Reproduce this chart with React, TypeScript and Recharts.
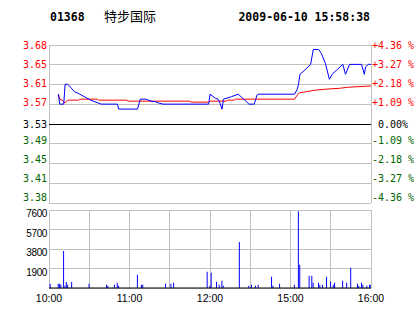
import React from 'react';
import {
  ComposedChart,
  BarChart,
  Line,
  Bar,
  XAxis,
  YAxis,
  CartesianGrid,
  ReferenceLine,
} from 'recharts';

// ---- header ----
const stockCode = '01368';
const stockName = '特步国际';
const timestamp = '2009-06-10 15:58:38';

// ---- price scale ----
const prevClose = 3.53;
const priceStep = 0.03975;
const priceTickLabels = ['3.38', '3.41', '3.45', '3.49', '3.53', '3.57', '3.61', '3.65', '3.68'];
const pctTickLabels = ['-4.36 %', '-3.27 %', '-2.18 %', '-1.09 %', '0.00%', '+1.09 %', '+2.18 %', '+3.27 %', '+4.36 %'];

// ---- volume scale ----
const volumeTicks = [0, 1900, 3800, 5700, 7600];
const volumeTickLabels = ['', '1900', '3800', '5700', '7600'];

// ---- time axis (minutes of trading from 10:00) ----
const timeTicks = [0, 30, 60, 90, 120, 150, 180, 210, 240];
const timeTickLabels = ['10:00', '', '11:00', '', '12:00', '', '15:00', '', '16:00'];

// ---- price series ----
const priceMinutes = [7, 8, 11, 12, 14, 19, 23, 31, 35, 39, 51, 52, 66, 68, 72, 76, 79, 82, 85, 119, 120, 124, 126, 127, 129, 130, 136, 141, 146, 149, 153, 155, 156, 183, 185, 186, 187, 190, 195, 197, 201, 203, 206, 209, 211, 215, 219, 221, 224, 233, 235, 236, 238, 240];
const priceValues = [3.59, 3.57, 3.57, 3.61, 3.61, 3.595, 3.59, 3.578, 3.574, 3.57, 3.57, 3.56, 3.56, 3.58, 3.58, 3.576, 3.575, 3.572, 3.57, 3.57, 3.59, 3.582, 3.58, 3.575, 3.56, 3.58, 3.585, 3.59, 3.578, 3.57, 3.57, 3.588, 3.59, 3.59, 3.6, 3.61, 3.63, 3.637, 3.65, 3.68, 3.68, 3.672, 3.652, 3.62, 3.63, 3.64, 3.65, 3.63, 3.65, 3.65, 3.63, 3.645, 3.65, 3.65];

// ---- average price series ----
const avgMinutes = [7, 8, 10, 11, 12, 14, 22, 23, 36, 37, 58, 59, 105, 106, 119, 120, 132, 133, 138, 139, 183, 185, 187, 192, 198, 206, 217, 223, 240];
const avgValues = [3.59, 3.58, 3.578, 3.574, 3.573, 3.578, 3.578, 3.58, 3.58, 3.578, 3.578, 3.576, 3.576, 3.574, 3.574, 3.576, 3.576, 3.578, 3.578, 3.58, 3.58, 3.588, 3.593, 3.595, 3.598, 3.6, 3.602, 3.604, 3.6065];

// ---- volume series ----
const volumeMinutes = [1, 7, 8, 9, 11, 12, 13, 14, 17, 30, 43, 44, 49, 51, 52, 66, 69, 70, 87, 91, 93, 118, 120, 121, 125, 127, 129, 130, 142, 149, 151, 154, 156, 166, 167, 172, 183, 186, 187, 194, 196, 197, 201, 202, 204, 207, 210, 212, 213, 219, 222, 225, 230, 231, 233, 234, 237, 239, 240];
const volumeValues = [420, 420, 420, 320, 3610, 220, 580, 320, 580, 420, 320, 220, 320, 515, 220, 1290, 320, 320, 420, 420, 515, 1580, 220, 1480, 610, 320, 710, 220, 4480, 220, 320, 220, 320, 1100, 220, 420, 320, 7480, 2260, 1190, 1190, 515, 515, 320, 320, 1100, 610, 320, 515, 710, 515, 1970, 420, 220, 515, 320, 220, 320, 320];

// ---- derived tables ----
const priceTicks = [-4, -3, -2, -1, 0, 1, 2, 3, 4].map((k) => prevClose + k * priceStep);
const priceMin = priceTicks[0];
const priceMax = priceTicks[priceTicks.length - 1];
const priceData = priceMinutes.map((m, i) => ({ m, v: priceValues[i] }));
const avgData = avgMinutes.map((m, i) => ({ m, v: avgValues[i] }));
const volumeData = volumeMinutes.map((m, i) => ({ m, v: volumeValues[i] }));

const RED = '#ff0000';
const GREEN = '#006400';
const GRID = '#c0c0c0';
const MONO = '"DejaVu Sans Mono", monospace';
const SANS = '"Liberation Sans", Arial, sans-serif';
const labelShift = [-5.8, -5, -4, -3, 0, -2.2, -1.5, -0.3, 0];

const tickIndex = (value: number) =>
  priceTicks.findIndex((t) => Math.abs(t - value) < 1e-6);

const colorFor = (i: number) => (i > 4 ? RED : i < 4 ? GREEN : '#000');

const LeftTick = (props: any) => {
  const { x, y, payload } = props;
  const i = tickIndex(payload.value);
  if (i < 0) return null;
  return (
    <text x={x} y={y + labelShift[i] + 3.6} textAnchor="end" fontFamily={MONO} fontSize={10} fill={colorFor(i)}>
      {priceTickLabels[i]}
    </text>
  );
};

const RightTick = (props: any) => {
  const { x, y, payload } = props;
  const i = tickIndex(payload.value);
  if (i < 0) return null;
  return (
    <text x={x + (i === 4 ? 6 : 0)} y={y + labelShift[i] + 3.6} textAnchor="start" fontFamily={MONO} fontSize={10} fill={colorFor(i)}>
      {pctTickLabels[i]}
    </text>
  );
};

const VolTick = (props: any) => {
  const { x, y, payload } = props;
  const i = volumeTicks.indexOf(payload.value);
  if (i <= 0) return null;
  return (
    <text x={x} y={y + 7.2} textAnchor="end" fontFamily={SANS} fontSize={10} letterSpacing={-0.4} fill="#000">
      {volumeTickLabels[i]}
    </text>
  );
};

const TimeTick = (props: any) => {
  const { x, y, payload } = props;
  const i = timeTicks.indexOf(payload.value);
  if (i < 0 || !timeTickLabels[i]) return null;
  return (
    <text x={x} y={y + 14} textAnchor="middle" fontFamily={SANS} fontSize={10.5} fill="#000">
      {timeTickLabels[i]}
    </text>
  );
};

export default function App() {
  return (
    <div style={{ position: 'absolute', left: 0, top: 0, width: 414, height: 314, background: '#fff', overflow: 'hidden' }}>
      <svg width={414} height={30} style={{ position: 'absolute', left: 0, top: 0 }}>
        <text x={50} y={20.7} fontFamily={MONO} fontWeight="bold" fontSize={11.5} fill="#000">
          {stockCode}
        </text>
        <text x={104} y={20.5} fontFamily='"Noto Sans CJK SC", sans-serif' fontSize={13} fill="#000">
          {stockName}
        </text>
        <text x={370} y={20.7} textAnchor="end" fontFamily={MONO} fontWeight="bold" fontSize={11.5} fill="#000">
          {timestamp}
        </text>
      </svg>

      <div style={{ position: 'absolute', left: 0, top: 0 }}>
        <ComposedChart width={414} height={210} margin={{ top: 45, right: 0, bottom: 7, left: 0 }}>
          <CartesianGrid yAxisId="p" stroke={GRID} shapeRendering="crispEdges" />
          <XAxis
            type="number"
            dataKey="m"
            domain={[0, 240]}
            ticks={timeTicks}
            interval={0}
            height={0}
            tick={false}
            tickLine={false}
            axisLine={{ stroke: '#000' }}
            allowDataOverflow
          />
          <YAxis
            yAxisId="p"
            type="number"
            domain={[priceMin, priceMax]}
            ticks={priceTicks}
            interval={0}
            width={49}
            tickSize={0}
            tickMargin={2}
            tickLine={false}
            axisLine={false}
            tick={<LeftTick />}
            allowDataOverflow
          />
          <YAxis
            yAxisId="pct"
            orientation="right"
            type="number"
            domain={[priceMin, priceMax]}
            ticks={priceTicks}
            interval={0}
            width={43}
            tickSize={0}
            tickMargin={1}
            tickLine={false}
            axisLine={false}
            tick={<RightTick />}
            allowDataOverflow
          />
          <ReferenceLine yAxisId="p" y={prevClose} stroke="#000" shapeRendering="crispEdges" />
          <Line yAxisId="p" data={avgData} dataKey="v" stroke={RED} strokeWidth={1} dot={false} isAnimationActive={false} />
          <Line yAxisId="p" data={priceData} dataKey="v" stroke="#0000ff" strokeWidth={1} dot={false} isAnimationActive={false} />
        </ComposedChart>
      </div>

      <div style={{ position: 'absolute', left: 0, top: 203 }}>
        <BarChart width={414} height={111} data={volumeData} margin={{ top: 7, right: 43, bottom: 0, left: 0 }}>
          <CartesianGrid stroke={GRID} shapeRendering="crispEdges" />
          <XAxis
            type="number"
            dataKey="m"
            domain={[0, 240]}
            ticks={timeTicks}
            interval={0}
            height={26}
            tickSize={0}
            tickMargin={0}
            tickLine={false}
            axisLine={{ stroke: '#000' }}
            tick={<TimeTick />}
            allowDataOverflow
          />
          <YAxis
            type="number"
            domain={[0, 7600]}
            ticks={volumeTicks}
            interval={0}
            width={49}
            tickSize={0}
            tickMargin={2}
            tickLine={false}
            axisLine={false}
            tick={<VolTick />}
            allowDataOverflow
          />
          <Bar dataKey="v" fill="#0000ff" barSize={1} isAnimationActive={false} />
        </BarChart>
      </div>
    </div>
  );
}
